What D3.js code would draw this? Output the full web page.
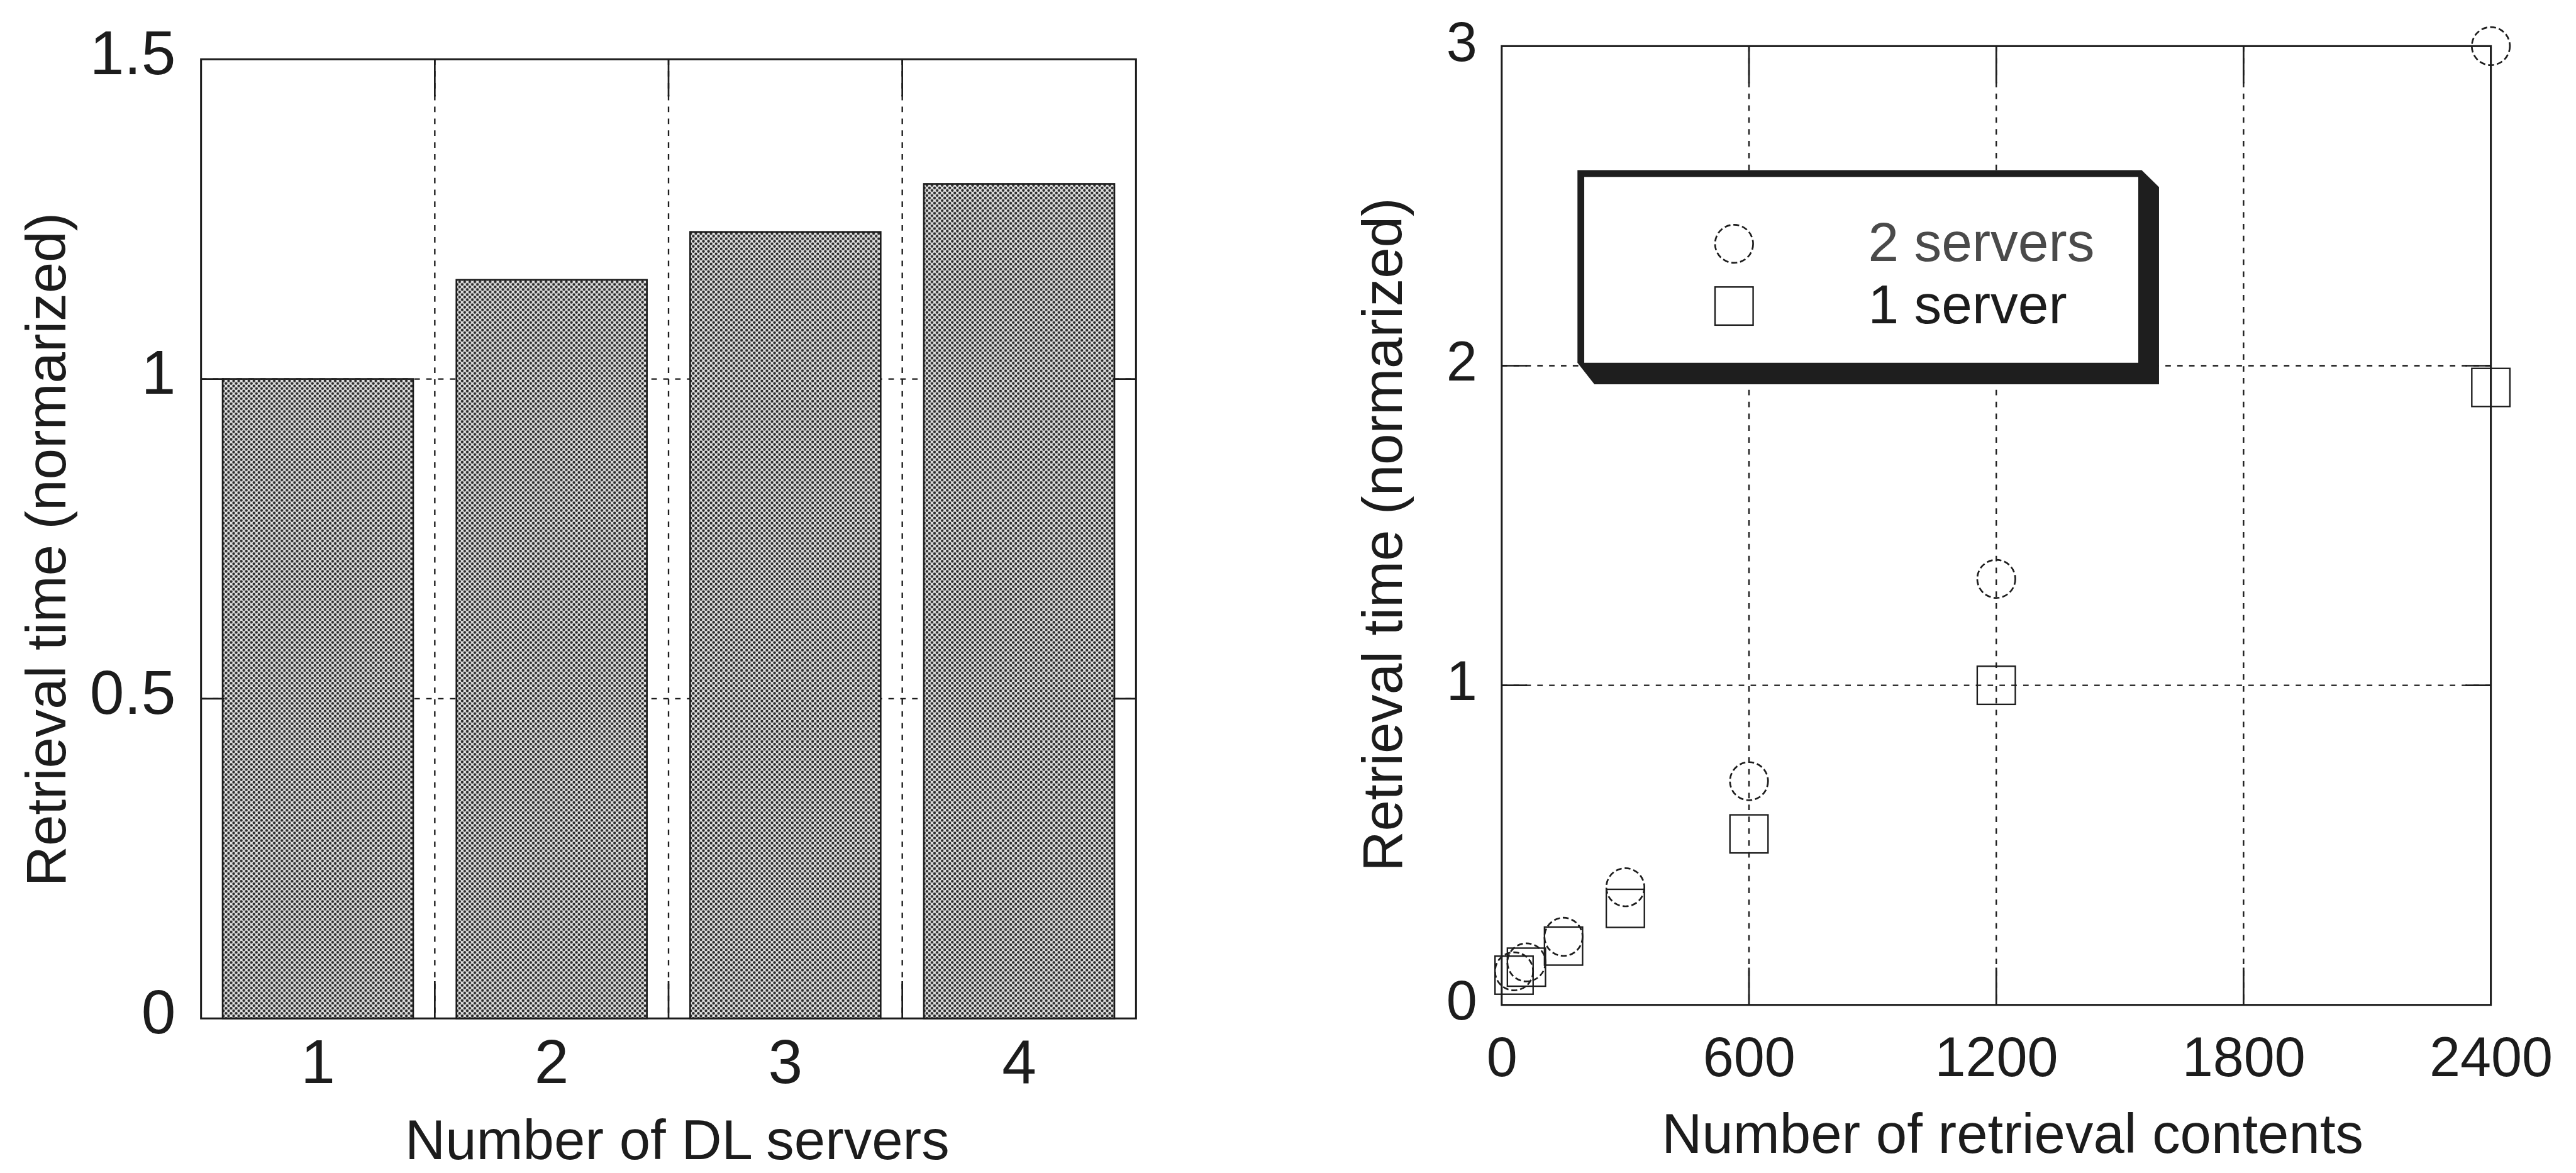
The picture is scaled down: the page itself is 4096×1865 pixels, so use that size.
<!DOCTYPE html>
<html><head><meta charset="utf-8">
<script src="https://cdn.jsdelivr.net/npm/d3@7"></script>
<style>html,body{margin:0;padding:0;background:#fff;overflow:hidden;} svg{display:block;}</style>
</head><body>
<script>
// ---------- data ----------
const barCategories = ["1", "2", "3", "4"];
const barValues = [1.0, 1.155, 1.23, 1.305];
const barYTicks = [0, 0.5, 1, 1.5];
const barYTickLabels = ["0", "0.5", "1", "1.5"];
const barGridY = [0.5, 1];
const barGridX = [1.5, 2.5, 3.5];

const scatterX = [30, 60, 150, 300, 600, 1200, 2400];
const twoServers = [0.105, 0.133, 0.213, 0.368, 0.70, 1.333, 3.0];
const oneServer = [0.093, 0.118, 0.184, 0.302, 0.535, 1.0, 1.932];
const scatterXTicks = [0, 600, 1200, 1800, 2400];
const scatterYTicks = [0, 1, 2, 3];
const scatterGridX = [600, 1200, 1800];
const scatterGridY = [1, 2];
const seriesNames = ["2 servers", "1 server"];

const leftXTitle = "Number of DL servers";
const rightXTitle = "Number of retrieval contents";
const yTitle = "Retrieval time (normarized)";

// ---------- setup ----------
const S = 0.673;
const FONT = "'Liberation Sans', Arial, Helvetica, sans-serif";
const INK = "#1c1c1c";
const svg = d3.select("body").append("svg").attr("width", 4096).attr("height", 1865);
const defs = svg.append("defs");
const pat = defs.append("pattern").attr("id", "halftone").attr("patternUnits", "userSpaceOnUse")
  .attr("width", 12).attr("height", 12);
pat.append("rect").attr("width", 12).attr("height", 12).attr("fill", "#e4e4e4");
[[0,0],[12,0],[0,12],[12,12],[6,6]].forEach(p => pat.append("circle").attr("cx", p[0]).attr("cy", p[1]).attr("r", 3.3).attr("fill", "#2c2c2c"));

const root = svg.append("g").attr("transform", `scale(${S})`);

// ========== LEFT PANEL: bar chart ==========
const L = {left: 475, right: 2684, top: 140, bottom: 2406};
const xb = d3.scaleBand().domain(barCategories).range([L.left, L.right]).paddingInner(0.185).paddingOuter(0.0925);
const xbc = d3.scaleLinear().domain([0.5, 4.5]).range([L.left, L.right]);
const yb = d3.scaleLinear().domain([0, 1.5]).range([L.bottom, L.top]);
const gl = root.append("g");

// gridlines
gl.selectAll("line.gy").data(barGridY).join("line")
  .attr("x1", L.left).attr("x2", L.right).attr("y1", d => yb(d)).attr("y2", d => yb(d))
  .attr("stroke", INK).attr("stroke-width", 3.5).attr("stroke-dasharray", "13 15");
gl.selectAll("line.gx").data(barGridX).join("line")
  .attr("y1", L.top).attr("y2", L.bottom).attr("x1", d => xbc(d)).attr("x2", d => xbc(d))
  .attr("stroke", INK).attr("stroke-width", 3.5).attr("stroke-dasharray", "13 15");

// bars
gl.selectAll("rect.bar").data(barValues).join("rect")
  .attr("x", (d, i) => xb(barCategories[i])).attr("width", xb.bandwidth())
  .attr("y", d => yb(d)).attr("height", d => yb(0) - yb(d))
  .attr("fill", "url(#halftone)").attr("stroke", INK).attr("stroke-width", 4);

// tick marks (inward)
barGridY.forEach(v => {
  gl.append("line").attr("x1", L.left).attr("x2", L.left + 55).attr("y1", yb(v)).attr("y2", yb(v)).attr("stroke", INK).attr("stroke-width", 4);
  gl.append("line").attr("x1", L.right).attr("x2", L.right - 55).attr("y1", yb(v)).attr("y2", yb(v)).attr("stroke", INK).attr("stroke-width", 4);
});
barGridX.forEach(v => {
  gl.append("line").attr("y1", L.top).attr("y2", L.top + 88).attr("x1", xbc(v)).attr("x2", xbc(v)).attr("stroke", INK).attr("stroke-width", 4);
  gl.append("line").attr("y1", L.bottom).attr("y2", L.bottom - 88).attr("x1", xbc(v)).attr("x2", xbc(v)).attr("stroke", INK).attr("stroke-width", 4);
});

// frame
gl.append("rect").attr("x", L.left).attr("y", L.top).attr("width", L.right - L.left).attr("height", L.bottom - L.top)
  .attr("fill", "none").attr("stroke", INK).attr("stroke-width", 4.5);

// axes labels
const ylAxis = gl.append("g").attr("transform", `translate(${L.left},0)`)
  .call(d3.axisLeft(yb).tickValues(barYTicks).tickFormat((d, i) => barYTickLabels[i]).tickSize(0).tickPadding(60));
ylAxis.select(".domain").remove();
ylAxis.selectAll("text").attr("font-family", FONT).attr("font-size", 146).attr("fill", INK).attr("dy", "0.24em");
const xlAxis = gl.append("g").attr("transform", `translate(0,${L.bottom})`)
  .call(d3.axisBottom(xb).tickSize(0));
xlAxis.select(".domain").remove();
xlAxis.selectAll("text").attr("font-family", FONT).attr("font-size", 146).attr("fill", INK).attr("y", 152).attr("dy", 0);

gl.append("text").attr("x", 1600).attr("y", 2738).attr("text-anchor", "middle")
  .attr("font-family", FONT).attr("font-size", 132).attr("fill", INK).text(leftXTitle);
gl.append("text").attr("transform", "translate(155,1298) rotate(-90)").attr("text-anchor", "middle")
  .attr("font-family", FONT).attr("font-size", 132).attr("fill", INK).text(yTitle);

// ========== RIGHT PANEL: scatter ==========
const R = {left: 3548, right: 5885, top: 109, bottom: 2374};
const xs = d3.scaleLinear().domain([0, 2400]).range([R.left, R.right]);
const ys = d3.scaleLinear().domain([0, 3]).range([R.bottom, R.top]);
const gr = root.append("g");

gr.selectAll("line.gy").data(scatterGridY).join("line")
  .attr("x1", R.left).attr("x2", R.right).attr("y1", d => ys(d)).attr("y2", d => ys(d))
  .attr("stroke", INK).attr("stroke-width", 3.5).attr("stroke-dasharray", "13 15");
gr.selectAll("line.gx").data(scatterGridX).join("line")
  .attr("y1", R.top).attr("y2", R.bottom).attr("x1", d => xs(d)).attr("x2", d => xs(d))
  .attr("stroke", INK).attr("stroke-width", 3.5).attr("stroke-dasharray", "13 15");
scatterGridY.forEach(v => {
  gr.append("line").attr("x1", R.left).attr("x2", R.left + 60).attr("y1", ys(v)).attr("y2", ys(v)).attr("stroke", INK).attr("stroke-width", 4);
  gr.append("line").attr("x1", R.right).attr("x2", R.right - 60).attr("y1", ys(v)).attr("y2", ys(v)).attr("stroke", INK).attr("stroke-width", 4);
});
scatterGridX.forEach(v => {
  gr.append("line").attr("y1", R.top).attr("y2", R.top + 88).attr("x1", xs(v)).attr("x2", xs(v)).attr("stroke", INK).attr("stroke-width", 4);
  gr.append("line").attr("y1", R.bottom).attr("y2", R.bottom - 88).attr("x1", xs(v)).attr("x2", xs(v)).attr("stroke", INK).attr("stroke-width", 4);
});
gr.append("rect").attr("x", R.left).attr("y", R.top).attr("width", R.right - R.left).attr("height", R.bottom - R.top)
  .attr("fill", "none").attr("stroke", INK).attr("stroke-width", 4.5);

// markers
const MS = 90;
gr.selectAll("rect.sq").data(oneServer).join("rect")
  .attr("x", (d, i) => xs(scatterX[i]) - MS / 2).attr("y", d => ys(d) - MS / 2)
  .attr("width", MS).attr("height", MS).attr("fill", "none").attr("stroke", INK).attr("stroke-width", 3.5);
gr.selectAll("circle.ci").data(twoServers).join("circle")
  .attr("cx", (d, i) => xs(scatterX[i])).attr("cy", d => ys(d)).attr("r", MS / 2)
  .attr("fill", "none").attr("stroke", INK).attr("stroke-width", 4).attr("stroke-dasharray", "14 7");

// axes labels
const yrAxis = gr.append("g").attr("transform", `translate(${R.left},0)`)
  .call(d3.axisLeft(ys).tickValues(scatterYTicks).tickFormat(d3.format("d")).tickSize(0).tickPadding(58));
yrAxis.select(".domain").remove();
yrAxis.selectAll("text").attr("font-family", FONT).attr("font-size", 131).attr("fill", INK).attr("dy", "0.26em");
const xrAxis = gr.append("g").attr("transform", `translate(0,${R.bottom})`)
  .call(d3.axisBottom(xs).tickValues(scatterXTicks).tickFormat(d3.format("d")).tickSize(0));
xrAxis.select(".domain").remove();
xrAxis.selectAll("text").attr("font-family", FONT).attr("font-size", 131).attr("fill", INK).attr("y", 169).attr("dy", 0);

gr.append("text").attr("x", 4755).attr("y", 2724).attr("text-anchor", "middle")
  .attr("font-family", FONT).attr("font-size", 132).attr("fill", INK).text(rightXTitle);
gr.append("text").attr("transform", "translate(3312,1263) rotate(-90)").attr("text-anchor", "middle")
  .attr("font-family", FONT).attr("font-size", 132).attr("fill", INK).text(yTitle);

// legend (shadowed box)
const lg = gr.append("g");
lg.append("polygon")
  .attr("points", [[3727,402],[5060,402],[5101,442],[5101,908],[3767,908],[3727,857]].map(p => p.join(",")).join(" "))
  .attr("fill", "#1e1e1e");
lg.append("rect").attr("x", 3743).attr("y", 418).attr("width", 5052 - 3743).attr("height", 857 - 418).attr("fill", "#fff");
lg.append("circle").attr("cx", 4097).attr("cy", 576).attr("r", MS / 2)
  .attr("fill", "none").attr("stroke", INK).attr("stroke-width", 4).attr("stroke-dasharray", "14 7");
lg.append("rect").attr("x", 4097 - MS / 2).attr("y", 723 - MS / 2).attr("width", MS).attr("height", MS)
  .attr("fill", "none").attr("stroke", INK).attr("stroke-width", 3.5);
lg.append("text").attr("x", 4414).attr("y", 616).attr("font-family", FONT).attr("font-size", 130)
  .attr("fill", "#4a4a4a").text(seriesNames[0]);
lg.append("text").attr("x", 4414).attr("y", 764).attr("font-family", FONT).attr("font-size", 130)
  .attr("fill", INK).text(seriesNames[1]);
</script>
</body></html>
